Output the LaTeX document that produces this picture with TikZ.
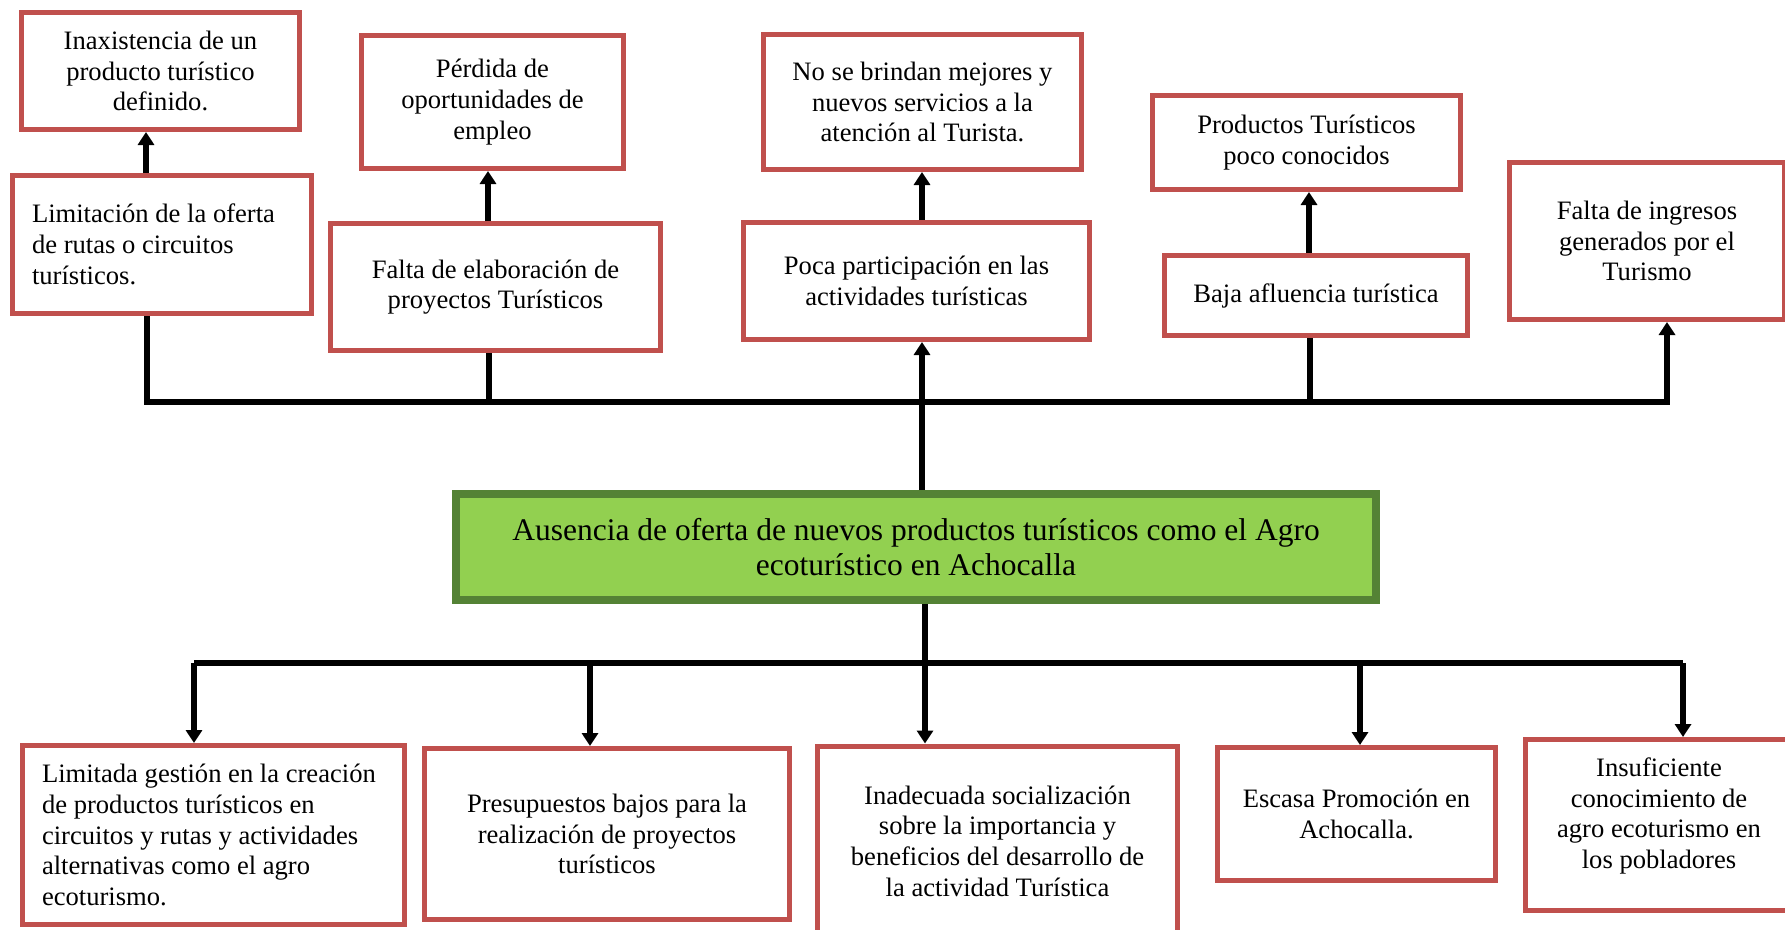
\documentclass[tikz,border=0pt]{standalone}
\usepackage{fontspec}
\setmainfont{Liberation Serif}
\usetikzlibrary{arrows.meta}
\definecolor{boxred}{HTML}{C0504D}
\definecolor{gfill}{HTML}{92D050}
\definecolor{gline}{HTML}{548235}
\begin{document}
\begin{tikzpicture}[x=1pt,y=-1pt,
  box/.style={draw=boxred, line width=5pt, fill=white, inner sep=0pt,
    font=\fontsize{26.6}{30.7}\selectfont, align=center},
  mainbox/.style={draw=gline, line width=8pt, fill=gfill, inner sep=0pt,
    font=\fontsize{31.5}{35.5}\selectfont, align=center},
  conn/.style={line width=5.5pt, draw=black, line join=miter},
  arr/.style={conn, -{Triangle[width=16pt,length=13pt]}}]
\useasboundingbox (0,0) rectangle (1785,929);
\clip (0,0) rectangle (1785,929);
\fill[white] (0,0) rectangle (1785,929);

% effects (top)
\node[box, minimum width=278pt, minimum height=117pt] (inax) at (160.5,71)
  {Inaxistencia de un\\producto turístico\\definido.};
\node[box, minimum width=299pt, minimum height=138pt, align=flush left, text width=260pt] (lim) at (162,244.5)
  {Limitación de la oferta\\de rutas o circuitos\\turísticos.};
\node[box, minimum width=262pt, minimum height=133pt] (perd) at (492.5,102)
  {Pérdida de\\oportunidades de\\empleo};
\node[box, minimum width=330pt, minimum height=127pt] (falta) at (495.5,287)
  {Falta de elaboración de\\proyectos Turísticos};
\node[box, minimum width=318pt, minimum height=135pt] (nose) at (922.5,102)
  {No se brindan mejores y\\nuevos servicios a la\\atención al Turista.};
\node[box, minimum width=346pt, minimum height=117pt] (poca) at (916.5,281)
  {Poca participación en las\\actividades turísticas};
\node[box, minimum width=308pt, minimum height=94pt] (prod) at (1306.5,142.5)
  {Productos Turísticos\\poco conocidos};
\node[box, minimum width=303pt, minimum height=80pt] (baja) at (1316,295.5)
  {Baja afluencia turística};
\node[box, minimum width=275pt, minimum height=157pt] (ingr) at (1647,241)
  {Falta de ingresos\\generados por el\\Turismo};

% central problem
\node[mainbox, minimum width=920pt, minimum height=106pt] (main) at (916,547)
  {Ausencia de oferta de nuevos productos turísticos como el Agro\\ecoturístico en Achocalla};

% causes (bottom)
\node[box, minimum width=382pt, minimum height=179pt, align=flush left, text width=343pt] (limd) at (213.5,835)
  {Limitada gestión en la creación\\de productos turísticos en\\circuitos y rutas y actividades\\alternativas como el agro\\ecoturismo.};
\node[box, minimum width=365pt, minimum height=171pt] (pres) at (607,834)
  {Presupuestos bajos para la\\realización de proyectos\\turísticos};
\node[box, minimum width=360pt, minimum height=190pt] (inad) at (997.5,841)
  {Inadecuada socialización\\sobre la importancia y\\beneficios del desarrollo de\\la actividad Turística};
\node[box, minimum width=278pt, minimum height=133pt] (esc) at (1356.5,814)
  {Escasa Promoción en\\Achocalla.};
\node[box, minimum width=267pt, minimum height=171pt, text depth=24pt] (insu) at (1659,825)
  {Insuficiente\\conocimiento de\\agro ecoturismo en\\los pobladores};

% connector x positions
\coordinate (xa) at (146,0);
\coordinate (xb) at (488,0);
\coordinate (xc) at (922,0);
\coordinate (xd) at (1309,0);
\coordinate (tl) at (147,402);
\coordinate (tf) at (489,402);
\coordinate (tb) at (1310,402);
\coordinate (tr) at (1667,402);
\coordinate (bl) at (194,663);
\coordinate (bp) at (590,663);
\coordinate (bm) at (925,663);
\coordinate (be) at (1360,663);
\coordinate (br) at (1683,663);

% effect chains
\draw[arr] (lim.north -| xa) -- (inax.south -| xa);
\draw[arr] (falta.north -| xb) -- (perd.south -| xb);
\draw[arr] (poca.north -| xc) -- (nose.south -| xc);
\draw[arr] (baja.north -| xd) -- (prod.south -| xd);

% top bus
\draw[arr] (lim.south -| tl) -- (tl) -- (tr) -- (ingr.south -| tr);
\draw[conn] (falta.south -| tf) -- (tf);
\draw[conn] (baja.south -| tb) -- (tb);
\draw[arr] (main.north -| xc) -- (poca.south -| xc);

% bottom bus
\draw[conn] (bl) -- (br);
\draw[arr] (main.south -| bm) -- (inad.north -| bm);
\draw[arr] (bl) -- (limd.north -| bl);
\draw[arr] (bp) -- (pres.north -| bp);
\draw[arr] (be) -- (esc.north -| be);
\draw[arr] (br) -- (insu.north -| br);
\end{tikzpicture}
\end{document}
